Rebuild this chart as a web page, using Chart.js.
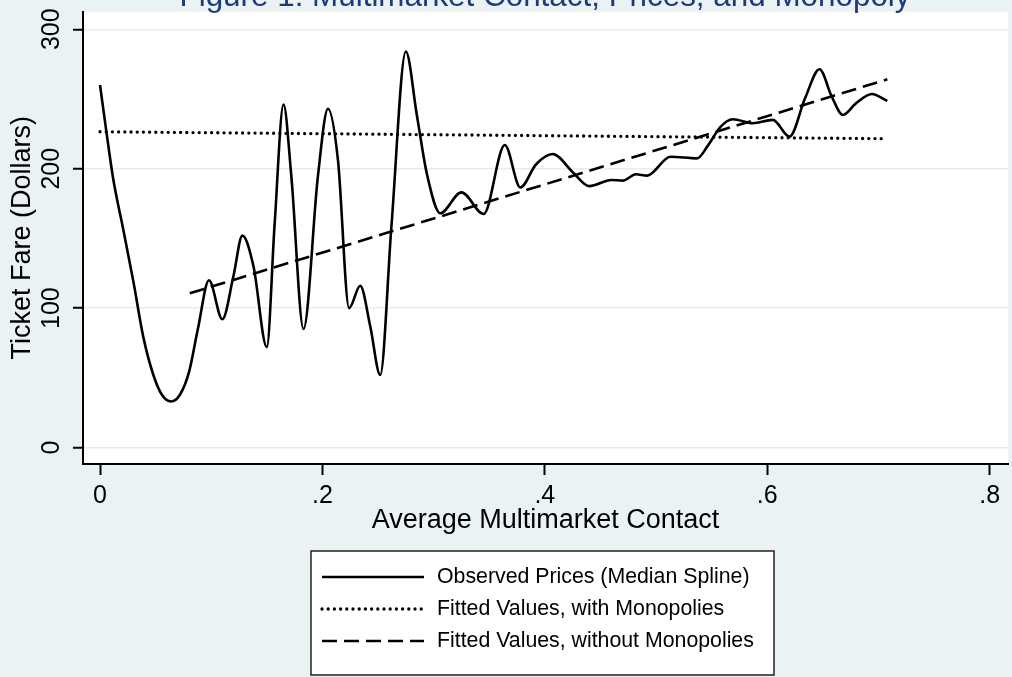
<!DOCTYPE html>
<html lang="en">
<head>
<meta charset="UTF-8" />
<title>Multimarket Contact, Prices, and Monopoly</title>
<script src="https://cdn.jsdelivr.net/npm/chart.js"></script>
<style>
  body { margin: 0; background: #eaf2f3; }
  canvas { display: block; }
</style>
</head>
<body>
<canvas id="fareChart" width="1012" height="677"></canvas>
<script>
// median spline of observed fares
const contact = [0.000, 0.006, 0.012, 0.021, 0.030, 0.039, 0.048, 0.0555, 0.064, 0.072,
  0.080, 0.088, 0.098, 0.110, 0.120, 0.128, 0.138, 0.150, 0.157, 0.165,
  0.172, 0.183, 0.196, 0.205, 0.214, 0.224, 0.234, 0.243, 0.252, 0.262,
  0.275, 0.285, 0.294, 0.306, 0.325, 0.345, 0.364, 0.378, 0.392, 0.407,
  0.426, 0.440, 0.460, 0.470, 0.482, 0.492, 0.513, 0.537, 0.546, 0.558,
  0.569, 0.587, 0.605, 0.620, 0.634, 0.647, 0.658, 0.668, 0.680, 0.694, 0.708];
const medianFare = [260, 225, 192, 156, 119, 79, 52, 38, 33, 38,
  54, 85, 120, 92, 123, 152, 130, 72, 160, 246,
  195, 85, 195, 243, 206, 100, 116, 87, 52, 158,
  284, 238, 196, 168, 183, 167.5, 217, 186.5, 203, 210.5,
  196.7, 187.5, 191.9, 191.4, 196, 195, 208.6, 207.4, 215.8, 230,
  235.4, 232.6, 235, 223, 250.5, 271.3, 251.7, 238.5, 247, 253.6, 248.6];

// linear fits
const monoX = [0, 0.708];
const monoFit = [226.5, 221.5];
const noMonoX = [0.0807, 0.708];
const noMonoFit = [110.6, 264.1];

const xTicks = [0, 0.2, 0.4, 0.6, 0.8];
const yTicks = [0, 100, 200, 300];

const FONT = "'Liberation Sans', Arial, sans-serif";
const pts = (xs, ys) => xs.map((x, i) => ({ x: x, y: ys[i] }));

// white plot region, clipped title and boxed legend
const frame = {
  id: 'frame',
  beforeDraw(chart) {
    const { ctx, chartArea: a } = chart;
    ctx.save();
    ctx.fillStyle = '#fff';
    ctx.fillRect(a.left, a.top, a.right - a.left, a.bottom - a.top);
    ctx.restore();
  },
  afterDraw(chart) {
    const ctx = chart.ctx;
    ctx.save();
    ctx.fillStyle = '#1c3b7c';
    ctx.font = '31.4px ' + FONT;
    ctx.textAlign = 'center';
    ctx.textBaseline = 'alphabetic';
    ctx.fillText('Figure 1: Multimarket Contact, Prices, and Monopoly', 545, 6);

    const bx = 311, by = 551, bw = 463, bh = 124;
    ctx.fillStyle = '#fff';
    ctx.fillRect(bx, by, bw, bh);
    ctx.strokeStyle = '#222';
    ctx.lineWidth = 1.5;
    ctx.strokeRect(bx, by, bw, bh);
    ctx.font = '21.3px ' + FONT;
    ctx.textAlign = 'left';
    ctx.textBaseline = 'middle';
    chart.data.datasets.forEach((ds, i) => {
      const y = 577 + i * 32;
      ctx.beginPath();
      ctx.setLineDash(ds.borderDash || []);
      ctx.lineCap = ds.borderCapStyle || 'butt';
      ctx.lineWidth = ds.borderWidth;
      ctx.strokeStyle = ds.borderColor;
      ctx.moveTo(322, y);
      ctx.lineTo(424, y);
      ctx.stroke();
      ctx.setLineDash([]);
      ctx.fillStyle = '#000';
      ctx.fillText(ds.label, 437, y);
    });
    ctx.restore();
  }
};

const tickFont = { family: FONT, size: 25, lineHeight: 1 };
const titleFont = { family: FONT, size: 27, lineHeight: 1 };

new Chart(document.getElementById('fareChart'), {
  type: 'line',
  data: {
    datasets: [
      {
        label: 'Observed Prices (Median Spline)',
        data: pts(contact, medianFare),
        borderColor: '#000',
        borderWidth: 2.6,
        pointRadius: 0,
        cubicInterpolationMode: 'monotone'
      },
      {
        label: 'Fitted Values, with Monopolies',
        data: pts(monoX, monoFit),
        borderColor: '#000',
        borderWidth: 3.3,
        borderDash: [0, 6.2],
        borderCapStyle: 'round',
        pointRadius: 0
      },
      {
        label: 'Fitted Values, without Monopolies',
        data: pts(noMonoX, noMonoFit),
        borderColor: '#000',
        borderWidth: 2.6,
        borderDash: [15, 7],
        pointRadius: 0
      }
    ]
  },
  options: {
    responsive: false,
    animation: false,
    layout: { padding: { top: 11.7, right: 4, bottom: 143, left: 0 } },
    plugins: { legend: { display: false }, tooltip: { enabled: false } },
    scales: {
      x: {
        type: 'linear',
        min: -0.0153,
        max: 0.8165,
        afterBuildTicks: s => { s.ticks = xTicks.map(v => ({ value: v })); },
        afterFit: s => { s.height = 70; s.paddingLeft = 0; s.paddingRight = 0; },
        grid: { drawOnChartArea: false, tickLength: 11, tickColor: '#000', tickWidth: 2 },
        border: { color: '#000', width: 2 },
        ticks: {
          color: '#000', font: tickFont, padding: 8.5, maxRotation: 0, autoSkip: false,
          callback: v => v === 0 ? '0' : String(v).replace(/^0/, '')
        },
        title: {
          display: true, text: 'Average Multimarket Contact', color: '#000',
          font: titleFont, padding: { top: 0, bottom: 0 }
        }
      },
      y: {
        min: -11.84,
        max: 312.6,
        afterBuildTicks: s => { s.ticks = yTicks.map(v => ({ value: v })); },
        afterFit: s => { s.width = 83; s.paddingTop = 0; s.paddingBottom = 0; },
        grid: { color: '#e4ecef', lineWidth: 1.5, tickLength: 10, tickColor: '#000', tickWidth: 2 },
        border: { color: '#000', width: 2 },
        ticks: {
          color: '#000', font: tickFont, padding: 0,
          minRotation: 90, maxRotation: 90, crossAlign: 'center'
        },
        title: {
          display: true, text: 'Ticket Fare (Dollars)', color: '#000',
          font: titleFont, padding: { top: 9, bottom: 0 }
        }
      }
    }
  },
  plugins: [frame]
});
</script>
</body>
</html>
